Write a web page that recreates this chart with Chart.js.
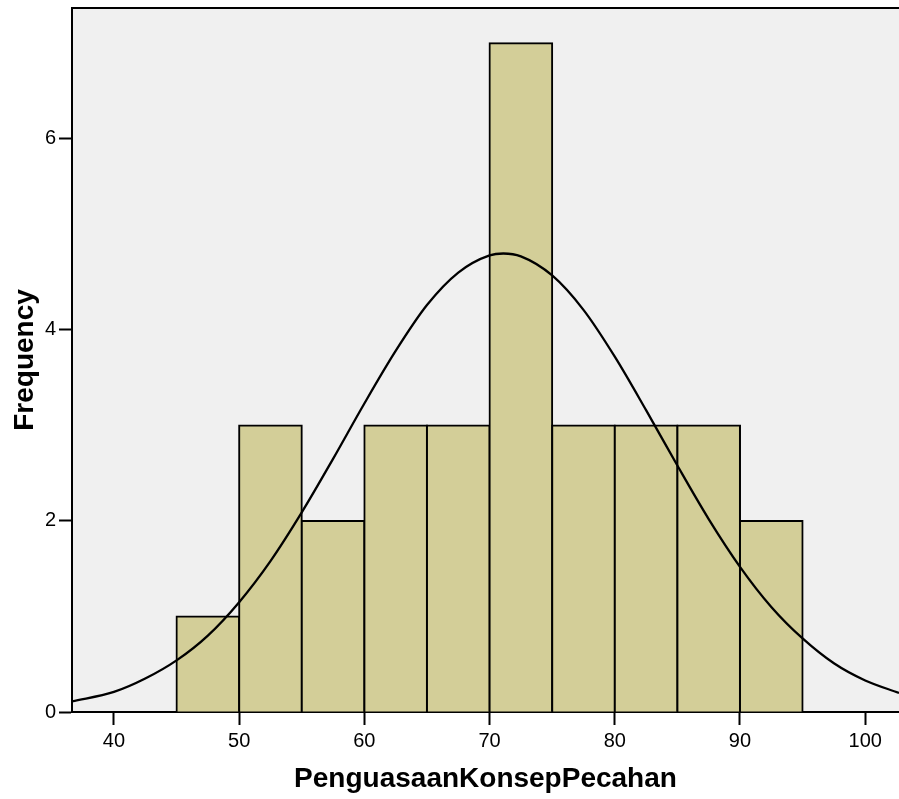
<!DOCTYPE html>
<html>
<head>
<meta charset="utf-8">
<script src="https://cdn.jsdelivr.net/npm/chart.js@4.4.1/dist/chart.umd.min.js"></script>
<style>
  html, body { margin: 0; padding: 0; background: #fff; }
  canvas { display: block; }
</style>
</head>
<body>
<canvas id="histChart" width="899" height="799"></canvas>
<script>
// histogram bins (centre of each 5-wide bin) and counts
const binCenters = [47.5, 52.5, 57.5, 62.5, 67.5, 72.5, 77.5, 82.5, 87.5, 92.5];
const binCounts = [1, 3, 2, 3, 3, 7, 3, 3, 3, 2];

// normal curve
const curveX = [36.65, 40, 42.5, 45, 47.5, 50, 52.5, 55, 57.5, 60, 62.5, 65, 67.5, 70, 71.1,
                72.5, 75, 77.5, 80, 82.5, 85, 87.5, 90, 92.5, 95, 97.5, 100, 102.7];
const curveY = [0.11, 0.21, 0.35, 0.54, 0.80, 1.15, 1.58, 2.09, 2.65, 3.23, 3.78, 4.26, 4.60, 4.78, 4.80,
                4.77, 4.57, 4.21, 3.72, 3.16, 2.58, 2.02, 1.52, 1.10, 0.77, 0.51, 0.33, 0.20];

const xTicks = [40, 50, 60, 70, 80, 90, 100];
const yTicks = [0, 2, 4, 6];

const FONT = "'Liberation Sans', Arial, sans-serif";

// grey plot background + top frame line
const plotFrame = {
    id: 'plotFrame',
    beforeDraw(chart) {
        const a = chart.chartArea;
        const ctx = chart.ctx;
        ctx.save();
        ctx.fillStyle = '#f0f0f0';
        ctx.fillRect(a.left, a.top, a.right - a.left, a.bottom - a.top);
        ctx.restore();
    },
    afterDraw(chart) {
        const a = chart.chartArea;
        const ctx = chart.ctx;
        ctx.save();
        ctx.strokeStyle = '#000';
        ctx.lineWidth = 2;
        ctx.beginPath();
        ctx.moveTo(a.left - 1, a.top);
        ctx.lineTo(a.right + 1, a.top);
        ctx.stroke();
        ctx.restore();
    }
};

const histChart = new Chart('histChart', {
    type: 'bar',
    data: {
        datasets: [{
            type: 'line',
            label: 'Normal',
            data: curveX.map((x, i) => ({ x: x, y: curveY[i] })),
            borderColor: '#000',
            borderWidth: 2.3,
            pointRadius: 0,
            cubicInterpolationMode: 'monotone',
            fill: false,
            order: 0
        }, {
            type: 'bar',
            label: 'Frequency',
            data: binCenters.map((x, i) => ({ x: x, y: binCounts[i] })),
            backgroundColor: '#d3ce98',
            borderColor: '#000',
            borderWidth: 2,
            inflateAmount: 1,
            barPercentage: 1,
            categoryPercentage: 1,
            order: 1
        }]
    },
    options: {
        responsive: false,
        animation: false,
        layout: { padding: { top: 8, right: 0, left: 0, bottom: 0 } },
        plugins: {
            legend: { display: false },
            tooltip: { enabled: false }
        },
        scales: {
            x: {
                type: 'linear',
                offset: false,
                min: 36.65,
                max: 102.7,
                afterFit: s => { s.height = 87; s.paddingLeft = 0; s.paddingRight = 0; },
                afterBuildTicks: s => { s.ticks = xTicks.map(v => ({ value: v })); },
                border: { display: true, color: '#000', width: 2 },
                grid: {
                    drawOnChartArea: false,
                    drawTicks: true,
                    tickLength: 13,
                    tickColor: '#000',
                    tickWidth: 2,
                    offset: false
                },
                ticks: {
                    color: '#000',
                    font: { family: FONT, size: 20 },
                    padding: 4,
                    maxRotation: 0
                },
                title: {
                    display: true,
                    text: 'PenguasaanKonsepPecahan',
                    color: '#000',
                    font: { family: FONT, size: 28, weight: 'bold' },
                    padding: { top: 0, bottom: 3 }
                }
            },
            y: {
                min: 0,
                max: 7.37,
                afterFit: s => { s.width = 72; s.paddingTop = 0; s.paddingBottom = 0; },
                afterBuildTicks: s => { s.ticks = yTicks.map(v => ({ value: v })); },
                border: { display: true, color: '#000', width: 2 },
                grid: {
                    drawOnChartArea: false,
                    drawTicks: true,
                    tickLength: 13,
                    tickColor: '#000',
                    tickWidth: 2
                },
                ticks: {
                    color: '#000',
                    font: { family: FONT, size: 20 },
                    padding: 3
                },
                title: {
                    display: true,
                    text: 'Frequency',
                    color: '#000',
                    font: { family: FONT, size: 28, weight: 'bold' },
                    padding: { top: 8, bottom: 0 }
                }
            }
        }
    },
    plugins: [plotFrame]
});
</script>
</body>
</html>
